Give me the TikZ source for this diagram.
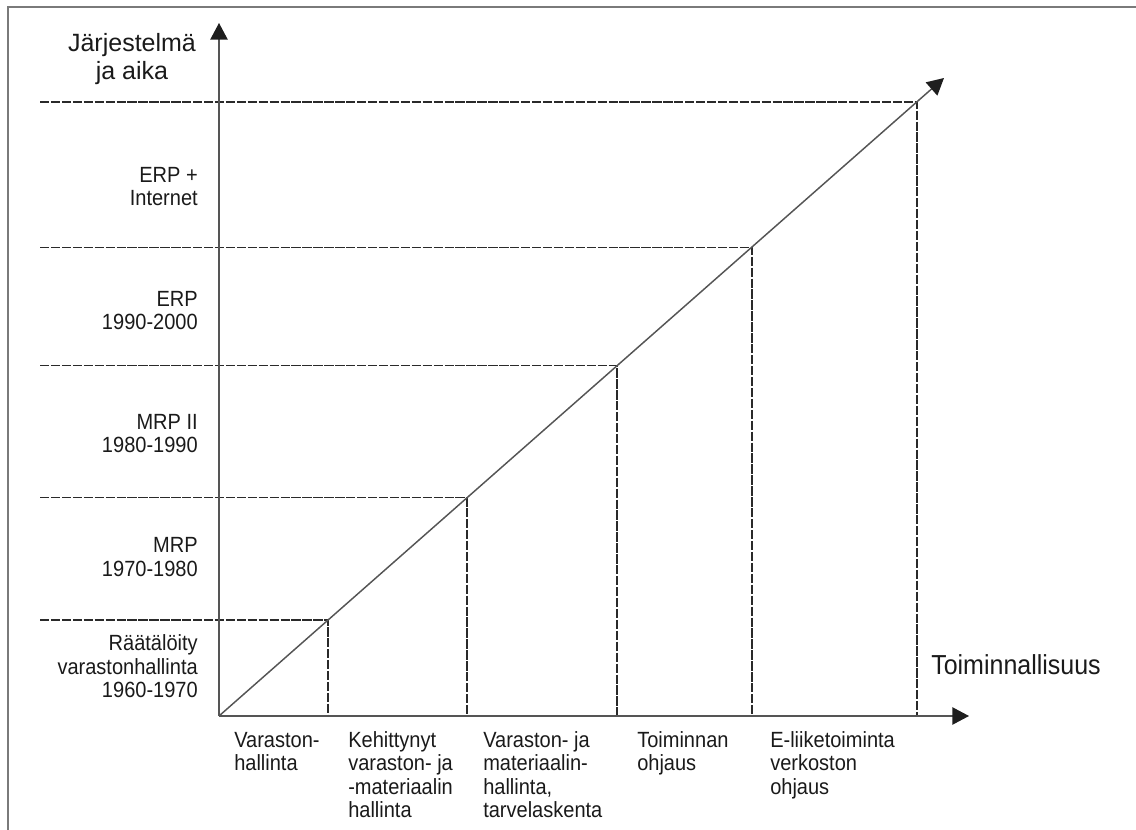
\documentclass[tikz,border=0pt]{standalone}
\usepackage{fontspec}
\setmainfont{Liberation Sans}
\newfontfamily\lblfont{Liberation Sans}[FakeStretch=0.91]
\usetikzlibrary{arrows.meta}
\newcommand\tstrut{\rule{0pt}{1em}}
\definecolor{axisgray}{HTML}{555555}
\definecolor{tipcol}{HTML}{1E1E1E}
\definecolor{dashgray}{HTML}{2A2A2A}
\definecolor{framegray}{HTML}{7A7A7A}
\definecolor{txt}{HTML}{1A1A1A}
\tikzset{
  axisline/.style={draw=axisgray, line width=1.1pt, -{Triangle[length=12.5pt,width=13pt,color=tipcol]}},
  guide/.style={draw=dashgray, line width=0.8pt, dash pattern=on 7pt off 1.2pt},
  framel/.style={draw=framegray, line width=1.1pt},
  ylabel/.style={anchor=north east, inner sep=0pt, align=right, text=txt,
    font=\lblfont\fontsize{16.5pt}{17.8pt}\selectfont},
  xlabel/.style={anchor=north west, inner sep=0pt, align=left, text=txt,
    font=\lblfont\fontsize{16.5pt}{17.6pt}\selectfont},
  titlelabel/.style={anchor=north, inner sep=0pt, align=center, text=txt,
    font=\fontsize{18.75pt}{21pt}\selectfont},
}
\begin{document}
\begin{tikzpicture}[x=0.75pt, y=-0.75pt]
\useasboundingbox (0,0) rectangle (1136,830);
% frame
\coordinate (F1) at (8,830);
\coordinate (F2) at (8,7);
\coordinate (F3) at (1136,7);
\draw[framel] (F1) -- (F2) -- (F3);
% key points
\coordinate (O) at (219,716);
\coordinate (Ytip) at (219,23);
\coordinate (Xtip) at (969,716);
\coordinate (Dtip) at (944,78);
\coordinate (P1) at (328,620);
\coordinate (P2) at (467,497.8);
\coordinate (P3) at (617,365.9);
\coordinate (P4) at (752,247.1);
\coordinate (P5) at (917,102);
\foreach \i/\x/\y in {1/328/620, 2/467/497.8, 3/617/365.9, 4/752/247.1, 5/917/102}{
  \coordinate (L\i) at (40,\y);
  \coordinate (B\i) at (\x,716);
}
% guides
\foreach \i in {1,...,5}{
  \draw[guide] (L\i) -- (P\i) -- (B\i);
}
% axes
\draw[axisline] (O) -- (Ytip);
\draw[axisline] (O) -- (Xtip);
\draw[axisline] (O) -- (Dtip);
% title
\node[titlelabel] (title) at (132,26) {\tstrut J\"arjestelm\"a\\ja aika};
\node[anchor=base west, inner sep=0pt, text=txt, font=\lblfont\fontsize{20.6pt}{22pt}\selectfont] (xtitle) at (931,674) {Toiminnallisuus};
% y labels
\node[ylabel] (y5) at (198,160) {\tstrut ERP +\\Internet};
\node[ylabel] (y4) at (198,284) {\tstrut ERP\\1990-2000};
\node[ylabel] (y3) at (198,407) {\tstrut MRP II\\1980-1990};
\node[ylabel] (y2) at (198,530) {\tstrut MRP\\1970-1980};
\node[ylabel] (y1) at (198,628) {\tstrut R\"a\"at\"al\"oity\\varastonhallinta\\1960-1970};
% x labels
\node[xlabel] (x1) at (234,725) {\tstrut Varaston-\\hallinta};
\node[xlabel] (x2) at (348,725) {\tstrut Kehittynyt\\varaston- ja\\-materiaalin\\hallinta};
\node[xlabel] (x3) at (483,725) {\tstrut Varaston- ja\\materiaalin-\\hallinta,\\tarvelaskenta};
\node[xlabel] (x4) at (637,725) {\tstrut Toiminnan\\ohjaus};
\node[xlabel] (x5) at (770,725) {\tstrut E-liiketoiminta\\verkoston\\ohjaus};
\end{tikzpicture}
\end{document}
